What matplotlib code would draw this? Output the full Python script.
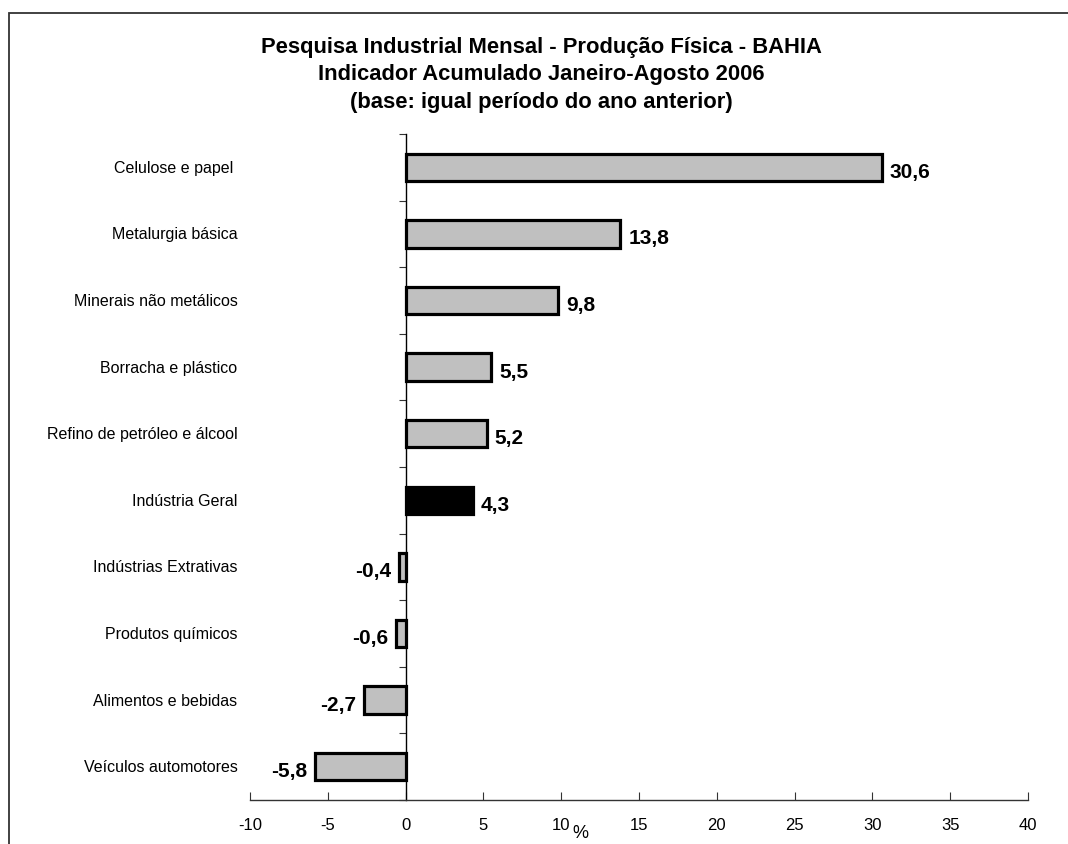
import matplotlib.pyplot as plt
from matplotlib.patches import Rectangle

plt.rcParams['font.family'] = ['Liberation Sans', 'DejaVu Sans']

# dados (de baixo para cima)
setores = ['Veículos automotores', 'Alimentos e bebidas', 'Produtos químicos',
           'Indústrias Extrativas', 'Indústria Geral', 'Refino de petróleo e álcool',
           'Borracha e plástico', 'Minerais não metálicos', 'Metalurgia básica',
           'Celulose e papel ']
valores = [-5.8, -2.7, -0.6, -0.4, 4.3, 5.2, 5.5, 9.8, 13.8, 30.6]
rotulos = ['-5,8', '-2,7', '-0,6', '-0,4', '4,3', '5,2', '5,5', '9,8', '13,8', '30,6']
xticks = [-10, -5, 0, 5, 10, 15, 20, 25, 30, 35, 40]

cores = ['black' if s == 'Indústria Geral' else '#c0c0c0' for s in setores]

fig = plt.figure(figsize=(10.68, 8.45), dpi=100)
ax = fig.add_axes([0.2341, 0.0521, 0.7285, 0.7882])

y = list(range(len(setores)))
ax.barh(y, valores, height=0.41, color=cores, edgecolor='black', linewidth=2.3, zorder=3)

for yi, v, r in zip(y, valores, rotulos):
    if v >= 0:
        ax.text(v + 0.5, yi - 0.06, r, ha='left', va='center', fontsize=15, fontweight='bold')
    else:
        ax.text(v - 0.5, yi - 0.06, r, ha='right', va='center', fontsize=15, fontweight='bold')

ax.set_xlim(-10, 40)
ax.set_ylim(-0.5, len(setores) - 0.5)
ax.set_xticks(xticks)
ax.set_xticklabels([str(t) for t in xticks], fontsize=12)

# eixo das categorias cruza em zero
ax.spines['left'].set_position(('data', 0))
ax.spines['right'].set_visible(False)
ax.spines['top'].set_visible(False)
ax.spines['left'].set_linewidth(1)
ax.spines['bottom'].set_linewidth(1)
ax.spines['bottom'].set_color('#333333')

ax.set_yticks([i - 0.5 for i in range(len(setores) + 1)])
ax.set_yticklabels([])
ax.tick_params(axis='y', direction='out', length=5, color='#333333')
ax.tick_params(axis='x', direction='in', length=6, color='#333333', pad=12)

# nomes das categorias à esquerda do gráfico
for yi, s in zip(y, setores):
    ax.text(-10.8, yi, s, ha='right', va='center', fontsize=11.5)

ax.set_xlabel('%', fontsize=13)
ax.xaxis.set_label_coords(0.424, -0.036)

tit = dict(ha='center', va='center', fontsize=15.8, fontweight='bold')
fig.text(0.5066, 0.944, 'Pesquisa Industrial Mensal - Produção Física - BAHIA', **tit)
fig.text(0.5066, 0.912, 'Indicador Acumulado Janeiro-Agosto 2006', **tit)
fig.text(0.5066, 0.879, '(base: igual período do ano anterior)', **tit)

fig.patches.append(Rectangle((9 / 1068, -0.1), 1.2, 1 - 14 / 845 + 0.1,
                             transform=fig.transFigure, fill=False,
                             edgecolor='#333333', linewidth=1.3))

fig.savefig('out.png', dpi=100)
